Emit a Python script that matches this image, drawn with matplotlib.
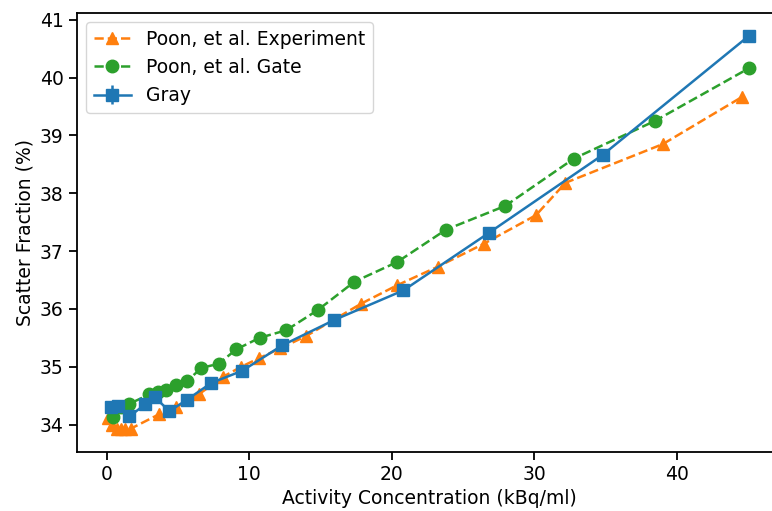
import numpy as np
import matplotlib
matplotlib.use("Agg")
import matplotlib.pyplot as plt

# Poon, et al. Experiment (orange triangles)
exp_x = [0.1, 0.4, 0.7, 1.0, 1.3, 1.7, 3.7, 4.9, 6.45, 8.2, 9.45, 10.72,
         12.2, 14.0, 17.86, 20.4, 23.25, 26.5, 30.13, 32.2, 39.04, 44.56]
exp_y = [34.12, 34.0, 33.93, 33.92, 33.92, 33.93, 34.18, 34.3, 34.52, 34.83,
         35.0, 35.15, 35.32, 35.53, 36.09, 36.41, 36.73, 37.13, 37.62, 38.18,
         38.85, 39.66]

# Poon, et al. Gate (green circles)
gate_x = [0.45, 1.0, 1.6, 3.0, 3.6, 4.15, 4.9, 5.64, 6.65, 7.85, 9.1, 10.74,
          12.6, 14.82, 17.39, 20.39, 23.82, 27.97, 32.8, 38.48, 45.07]
gate_y = [34.13, 34.3, 34.36, 34.52, 34.56, 34.6, 34.68, 34.75, 34.98, 35.05,
          35.3, 35.5, 35.63, 35.98, 36.47, 36.81, 37.37, 37.78, 38.6, 39.25,
          40.16]

# Gray (blue squares with error bars)
gray_x = [0.3, 0.8, 1.6, 2.7, 3.4, 4.4, 5.64, 7.35, 9.52, 12.33, 15.99,
          20.83, 26.8, 34.8, 45.07]
gray_y = [34.3, 34.32, 34.14, 34.35, 34.47, 34.23, 34.43, 34.72, 34.93,
          35.37, 35.81, 36.32, 37.31, 38.66, 40.72]
gray_err = 0.05

plt.rcParams['font.size'] = 13.5

fig = plt.figure(figsize=(7.72, 5.11), dpi=100)
# the original is cropped on the right, so the axes run past the figure edge
ax = fig.add_axes([0.0994, 0.116, 0.9136, 0.859])

ax.plot(exp_x, exp_y, '--^', color='C1', lw=1.8, ms=9, label='Poon, et al. Experiment')
ax.plot(gate_x, gate_y, '--o', color='C2', lw=1.8, ms=9, label='Poon, et al. Gate')
ax.errorbar(gray_x, gray_y, yerr=gray_err, fmt='-s', color='C0', lw=1.8, ms=9,
            label='Gray')

ax.set_xlim(-2.1, 47.4)
ax.set_ylim(33.53, 41.12)
ax.set_xticks([0, 10, 20, 30, 40])
ax.set_yticks([34, 35, 36, 37, 38, 39, 40, 41])
ax.tick_params(length=6, width=1.3)
for s in ax.spines.values():
    s.set_linewidth(1.3)
ax.spines['right'].set_visible(False)
ax.set_xlabel('Activity Concentration (kBq/ml)')
ax.set_ylabel('Scatter Fraction (%)')
ax.legend(loc='upper left')

fig.savefig('out.png', dpi=100)
